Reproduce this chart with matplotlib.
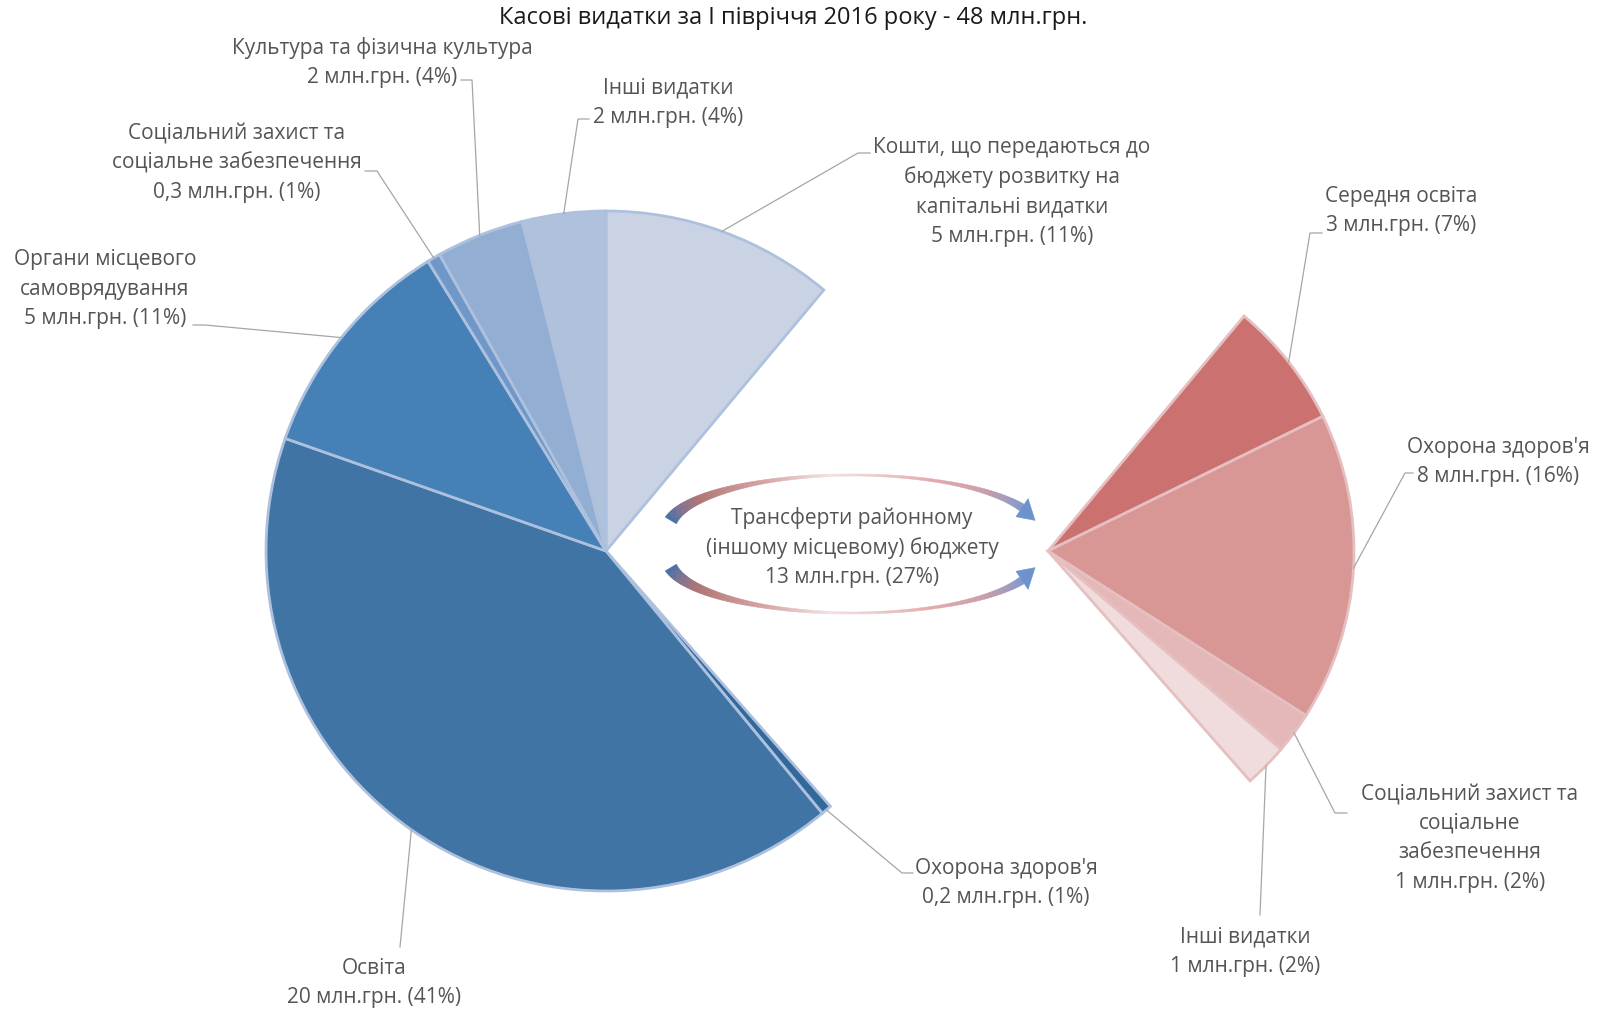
import numpy as np
import matplotlib.pyplot as plt
from matplotlib.collections import PolyCollection
from matplotlib.colors import LinearSegmentedColormap
from matplotlib.patches import Polygon

plt.rcParams['font.family'] = ['Open Sans', 'DejaVu Sans']

# Spending for H1 2016, mln UAH, clockwise from 12 o'clock
left_names = ["Кошти, що передаються до\nбюджету розвитку на\nкапітальні видатки",
              "Охорона здоров'я",
              "Освіта",
              "Органи місцевого\nсамоврядування",
              "Соціальний захист та\nсоціальне забезпечення",
              "Культура та фізична культура",
              "Інші видатки"]
left_values = [5.3, 0.24, 19.8, 5.2, 0.3, 2.0, 1.9]

# transfers to the district budget, split by purpose
transfer_name = "Трансферти районному\n(іншому місцевому) бюджету"
right_names = ["Середня освіта",
               "Охорона здоров'я",
               "Соціальний захист та\nсоціальне\nзабезпечення",
               "Інші видатки"]
right_values = [3.2, 7.8, 1.05, 1.1]

left_colors = ['#C9D3E4', '#33699A', '#3F74A5', '#4580B7', '#6F98C8', '#93AED3', '#B0C1DB']
right_colors = ['#CB7170', '#D89694', '#E4B8B8', '#F0DCDC']

transfer = sum(right_values)
pie_values = [left_values[0], transfer] + left_values[1:]
total = sum(pie_values)

# label positions (px from top-left) and leader line ends
left_pos = [(1012, 192), (1006, 883), (374, 983), (105, 289), (237, 163), (382, 63), (668, 103)]
left_lead = [((870, 153), (858, 153)), ((913, 873), (902, 873)), ((400, 947), None),
             ((193, 325), (205, 325)), ((365, 171), (377, 171)), ((461, 80), (472, 80)),
             ((589, 119), (578, 119))]
right_pos = [(1401, 211), (1498, 462), (1470, 838), (1245, 952)]
right_lead = [((1322, 233), (1310, 233)), ((1413, 473), (1405, 473)),
              ((1347, 813), (1335, 813)), ((1260, 915), None)]

W, H = 1598, 1011
FS = 15
GAP = 29.6
TXT = '#555555'
LEAD = '#A6A6A6'


def Y(y):
    return H - y


def fmt(v):
    s = f"{v:.1f}" if v < 1 else f"{v:.0f}"
    return s.replace('.', ',')


def value_text(v):
    return f"{fmt(v)} млн.грн. ({100 * v / total:.0f}%)"


def block(x, y, lines, color=TXT, fs=FS):
    n = len(lines)
    for i, ln in enumerate(lines):
        yy = y + (i - (n - 1) / 2) * GAP
        ax.text(x, Y(yy), ln, ha='center', va='center', fontsize=fs, color=color)


def leader(wedge, center, r, attach, elbow):
    mid = np.radians((wedge.theta1 + wedge.theta2) / 2)
    ax_ = center[0] + r * np.cos(mid)
    ay_ = center[1] + r * np.sin(mid)
    xs, ys = [ax_], [ay_]
    if elbow is not None:
        xs.append(elbow[0]); ys.append(Y(elbow[1]))
    xs.append(attach[0]); ys.append(Y(attach[1]))
    ax.plot(xs, ys, color=LEAD, lw=0.9, zorder=1)


def curved_arrow(cx, cy, a, b, s, th0, th1, th_tip, widths_th, widths, cmap, head_color):
    th = np.radians(np.linspace(th0, th1, 160))
    px = cx + a * np.cos(th)
    py = cy + s * b * np.sin(th)
    tx = -a * np.sin(th)
    ty = s * b * np.cos(th)
    nrm = np.hypot(tx, ty)
    nx, ny = -ty / nrm, tx / nrm
    w = np.interp(np.degrees(th)[::-1], widths_th[::-1], widths[::-1])[::-1]
    polys, cols = [], []
    for i in range(len(th) - 1):
        p = [(px[i] + nx[i] * w[i] / 2, py[i] + ny[i] * w[i] / 2),
             (px[i + 1] + nx[i + 1] * w[i + 1] / 2, py[i + 1] + ny[i + 1] * w[i + 1] / 2),
             (px[i + 1] - nx[i + 1] * w[i + 1] / 2, py[i + 1] - ny[i + 1] * w[i + 1] / 2),
             (px[i] - nx[i] * w[i] / 2, py[i] - ny[i] * w[i] / 2)]
        polys.append(p)
        cols.append(cmap(i / (len(th) - 2)))
    ax.add_collection(PolyCollection(polys, facecolors=cols, edgecolors=cols, linewidths=0.3, zorder=3))
    # arrow head
    tt = np.radians(th_tip)
    tip = (cx + a * np.cos(tt), cy + s * b * np.sin(tt))
    hw = 11
    head = [(px[-1] + nx[-1] * hw, py[-1] + ny[-1] * hw), tip,
            (px[-1] - nx[-1] * hw, py[-1] - ny[-1] * hw)]
    ax.add_patch(Polygon(head, closed=True, facecolor=head_color, edgecolor=head_color, lw=0.3, zorder=3))


fig = plt.figure(figsize=(W / 100, H / 100), dpi=100)
ax = fig.add_axes([0, 0, 1, 1])

lc, lr = (606, Y(551)), 340
rc, rr = (1048, Y(551)), 306

wl, _ = ax.pie(pie_values, colors=[left_colors[0], 'none'] + left_colors[1:],
               startangle=90, counterclock=False, center=lc, radius=lr, frame=True,
               wedgeprops=dict(edgecolor='#ADC1DE', linewidth=2.0))
wl[1].set_visible(False)

right_start = 90 - 360 * pie_values[0] / total
wr, _ = ax.pie(right_values + [total - transfer], colors=right_colors + ['none'],
               startangle=right_start, counterclock=False, center=rc, radius=rr, frame=True,
               wedgeprops=dict(edgecolor='#E6BFC0', linewidth=2.0))
wr[-1].set_visible(False)

ax.set_xlim(0, W)
ax.set_ylim(0, H)
ax.axis('off')

# labels for the main pie
left_wedges = [wl[0]] + list(wl[2:])
for w_, name, v, pos, (att, elb) in zip(left_wedges, left_names, left_values, left_pos, left_lead):
    block(pos[0], pos[1], name.split('\n') + [value_text(v)])
    leader(w_, lc, lr, att, elb)

for w_, name, v, pos, (att, elb) in zip(wr[:-1], right_names, right_values, right_pos, right_lead):
    block(pos[0], pos[1], name.split('\n') + [value_text(v)])
    leader(w_, rc, rr, att, elb)

# transfer label with the two curved arrows
block(852, 548, transfer_name.split('\n') + [value_text(transfer)])

grad = LinearSegmentedColormap.from_list('tr', [
    (0.0, '#3E6BA3'), (0.08, '#7F6F8E'), (0.16, '#AD7272'), (0.35, '#D6A2A2'),
    (0.5, '#F3E2E2'), (0.72, '#E2AAAA'), (0.86, '#C99CA8'), (1.0, '#8098CA')])
wth = [170, 150, 120, 90, 60, 35, 24]
wpx = [13, 9, 4, 2, 3, 6, 8]
curved_arrow(853, Y(530), 185, 55, 1, 170, 24, 10, wth, wpx, grad, '#6E93CC')
curved_arrow(853, Y(558), 185, 55, -1, 170, 24, 10, wth, wpx, grad, '#6E93CC')

ax.text(793, Y(18), "Касові видатки за І півріччя 2016 року - " + fmt(total) + " млн.грн.",
        ha='center', va='center', fontsize=17, color='#1A1A1A')

fig.savefig('out.png', dpi=100)
